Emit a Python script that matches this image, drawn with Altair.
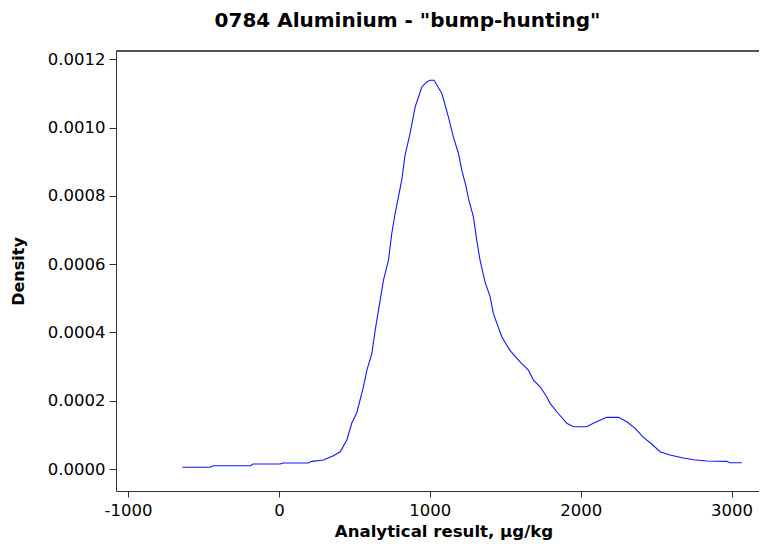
import altair as alt
import pandas as pd

# Kernel density curve (x in µg/kg, y density)
x_values = [-640, -456, -436, -191, -171, 8, 28, 195, 218, 295, 361, 406, 450, 483, 516,
            560, 583, 616, 638, 671, 693, 726, 748, 770, 792, 814, 836, 869, 903, 947,
            980, 1002, 1028, 1080, 1123, 1156, 1190, 1212, 1241, 1256, 1289, 1311, 1333,
            1366, 1400, 1421, 1477, 1532, 1598, 1653, 1687, 1731, 1775, 1797, 1842, 1908,
            1952, 2040, 2084, 2173, 2250, 2306, 2361, 2416, 2471, 2526, 2592, 2681, 2747,
            2836, 2968, 2990, 3068]
density = [0.0000050, 0.0000050, 0.0000097, 0.0000097, 0.0000146, 0.0000146, 0.0000176,
           0.0000176, 0.0000225, 0.0000263, 0.0000389, 0.0000506, 0.0000849, 0.0001346,
           0.0001648, 0.0002409, 0.0002898, 0.0003387, 0.0004069, 0.0004947, 0.0005532,
           0.0006117, 0.0006899, 0.0007484, 0.0007970, 0.0008459, 0.0009191, 0.0009826,
           0.0010605, 0.0011190, 0.0011336, 0.0011386, 0.0011386, 0.0010997, 0.0010312,
           0.0009727, 0.0009241, 0.0008752, 0.0008263, 0.0007923, 0.0007385, 0.0006703,
           0.0006117, 0.0005482, 0.0005043, 0.0004557, 0.0003872, 0.0003469, 0.0003141,
           0.0002898, 0.0002605, 0.0002409, 0.0002116, 0.0001923, 0.0001677, 0.0001338,
           0.0001238, 0.0001238, 0.0001338, 0.0001513, 0.0001513, 0.0001384, 0.0001191,
           0.0000928, 0.0000732, 0.0000506, 0.0000410, 0.0000322, 0.0000272, 0.0000234,
           0.0000225, 0.0000184, 0.0000184]

x_ticks = [-1000, 0, 1000, 2000, 3000]
y_ticks = [0.0, 0.0002, 0.0004, 0.0006, 0.0008, 0.0010, 0.0012]

df = pd.DataFrame({"x": x_values, "density": density})

FONT = "DejaVu Sans"
W = 643
H = 440

base = alt.Chart(df)

line = base.mark_line(color="#1414ff", strokeWidth=1.1).encode(
    x=alt.X("x:Q",
            scale=alt.Scale(domain=[-1080, 3182], nice=False, zero=False),
            axis=alt.Axis(values=x_ticks, title="Analytical result, µg/kg",
                          labelExpr="'' + datum.value", grid=False,
                          tickSize=6, labelPadding=5, titlePadding=5,
                          titleX=W / 2 + 6,
                          labelFontSize=16.5, titleFontSize=16.6)),
    y=alt.Y("density:Q",
            scale=alt.Scale(domain=[-0.0000644, 0.0012243], nice=False, zero=False),
            axis=alt.Axis(values=y_ticks, format=".4f", title="Density", grid=False,
                          tickSize=7, labelPadding=4, labelFontSize=16.5,
                          titleFontSize=16, titleAngle=270, titleX=-98, titleY=220,
                          titleAlign="center", titleBaseline="middle")),
)

# top frame line of the plot box (the right side is cut off in the reference)
top_line = base.mark_rule(color="#555555", strokeWidth=1.5).encode(
    x=alt.value(0), x2=alt.value(W + 10), y=alt.value(0)
)

chart = alt.layer(line, top_line).properties(
    width=W,
    height=H,
    title=alt.TitleParams('0784 Aluminium - "bump-hunting"', fontSize=20,
                          font=FONT, fontWeight="bold", color="black",
                          anchor="middle", dx=-30, offset=19),
    autosize=alt.AutoSizeParams(type="none"),
    padding={"left": 108, "top": 43, "right": 0, "bottom": 51},
).configure_axis(
    domainColor="#333333", tickColor="#333333", labelColor="black", titleColor="black",
    labelFont=FONT, titleFont=FONT, titleFontWeight="bold",
).configure_view(stroke=None)

chart.save("out.html", embed_options={"renderer": "svg", "actions": False})
